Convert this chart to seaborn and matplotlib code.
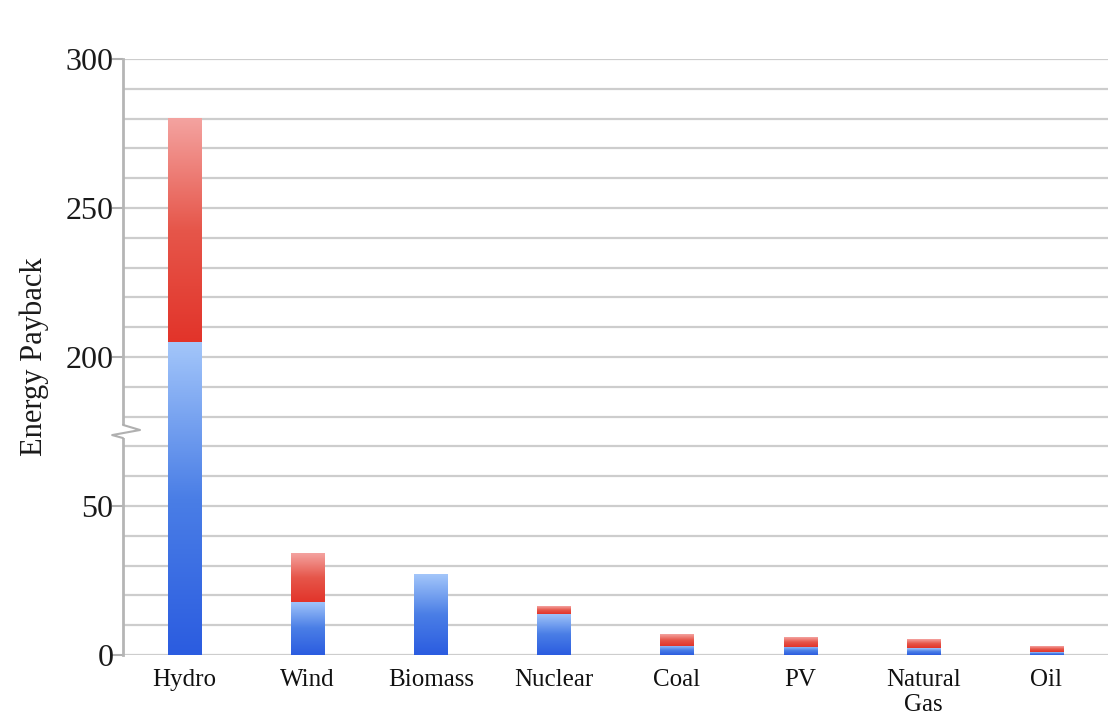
import numpy as np
import pandas as pd
import matplotlib
matplotlib.use("Agg")
import matplotlib.pyplot as plt
import seaborn as sns
from matplotlib.colors import LinearSegmentedColormap

sources = ['Hydro', 'Wind', 'Biomass', 'Nuclear', 'Coal', 'PV', 'Natural\nGas', 'Oil']
payback_low = [205, 17.8, 27.1, 13.9, 3.1, 2.7, 2.2, 0.9]
payback_high = [280, 34.1, 27.1, 16.3, 6.9, 5.9, 5.0, 2.7]
tick_values = [0, 50, 200, 250, 300]

BREAK_LOW = 75
BREAK_GAP = 100


def squash(v):
    """map an actual value to the broken-axis display value"""
    v = np.asarray(v, dtype=float)
    return np.where(v <= BREAK_LOW, v, v - BREAK_GAP)


df = pd.DataFrame({
    'source': sources,
    'low': squash(payback_low),
    'high': squash(payback_high),
})

sns.set_theme(style='white')
plt.rcParams['font.family'] = ['Liberation Serif', 'DejaVu Serif']

fig = plt.figure(figsize=(11.18, 7.19), dpi=100)
ax = fig.add_axes([0.110, 0.089, 0.881, 0.829])

sns.barplot(data=df, x='source', y='high', color='#e33a2a', width=0.27,
            saturation=1, ax=ax, zorder=2)
sns.barplot(data=df, x='source', y='low', color='#3a6ae4', width=0.27,
            saturation=1, ax=ax, zorder=2)

blue_cmap = LinearSegmentedColormap.from_list('b', ['#2b5ce0', '#4a7ee6', '#a3c6fa'])
red_cmap = LinearSegmentedColormap.from_list('r', ['#e2342a', '#e6564a', '#f4a3a0'])
grad = np.linspace(0, 1, 256).reshape(-1, 1)

n = len(sources)
high_patches = ax.patches[:n]
low_patches = ax.patches[n:2 * n]
for hp, lp in zip(high_patches, low_patches):
    x0 = hp.get_x()
    w = hp.get_width()
    top = hp.get_height()
    mid = lp.get_height()
    hp.set_alpha(0)
    lp.set_alpha(0)
    if mid > 0:
        ax.imshow(grad, cmap=blue_cmap, origin='lower', aspect='auto',
                  extent=(x0, x0 + w, 0, mid), zorder=3)
    if top - mid > 0.05:
        ax.imshow(grad, cmap=red_cmap, origin='lower', aspect='auto',
                  extent=(x0, x0 + w, mid, top), zorder=3)

ax.set_xlim(-0.5, n - 0.5)
ax.set_ylim(0, 200)

# gridlines every 10 display units
for g in np.arange(0, 201, 10):
    ax.axhline(g, color='#cdcdcd', lw=1.6, zorder=1)

ax.set_yticks(squash(tick_values))
ax.set_yticklabels([str(t) for t in tick_values], fontsize=23, color='#1a1a1a')
ax.tick_params(axis='y', length=8, width=1.5, color='#b0b0b0', left=True, pad=-1)
ax.tick_params(axis='x', length=0, pad=10, labelsize=18, labelcolor='#111111')

for side in ['top', 'right', 'bottom']:
    ax.spines[side].set_visible(False)
ax.spines['left'].set_color('#b5b5b5')
ax.spines['left'].set_linewidth(2)

ax.set_xlabel('')
ax.set_ylabel('Energy Payback', fontsize=22, color='#1a1a1a', labelpad=12)

# axis break: gap in the spine plus a zigzag
yt = ax.get_yaxis_transform()
ax.plot([0, 0], [72.8, 77.2], transform=yt, color='white', lw=4,
        clip_on=False, zorder=4, solid_capstyle='butt')
ax.plot([0.0, 0.0173, -0.011, 0.0], [77.2, 75.5, 73.8, 72.8], transform=yt,
        color='#b0b0b0', lw=1.5, clip_on=False, zorder=5)

fig.savefig('out.png', dpi=100, facecolor='white')
